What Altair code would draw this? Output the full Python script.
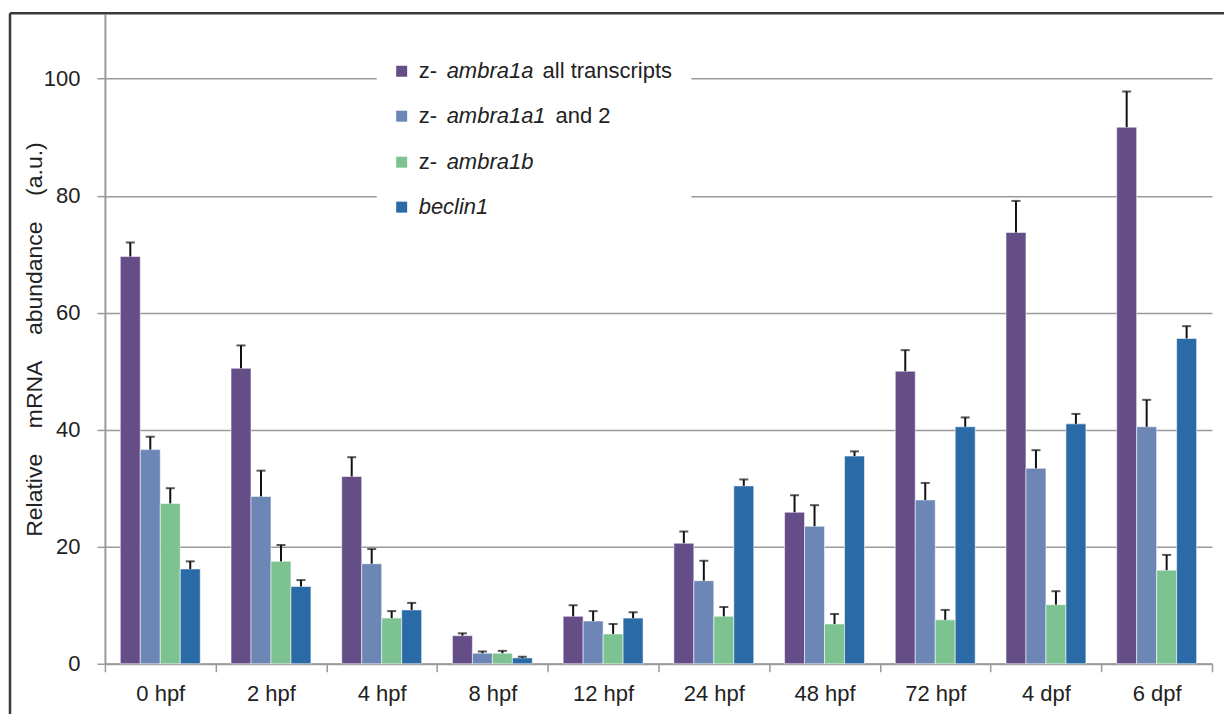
import altair as alt
import pandas as pd

# ---- data ----
stages = ["0 hpf", "2 hpf", "4 hpf", "8 hpf", "12 hpf", "24 hpf", "48 hpf", "72 hpf", "4 dpf", "6 dpf"]
series = ["z- ambra1a all transcripts", "z- ambra1a1 and 2", "z- ambra1b", "beclin1"]

ambra1a_all = [69.6, 50.5, 32.0, 4.8, 8.1, 20.6, 25.9, 50.0, 73.7, 91.7]
ambra1a_all_err = [2.4, 3.9, 3.3, 0.4, 1.9, 2.0, 2.9, 3.6, 5.4, 6.1]
ambra1a12 = [36.6, 28.6, 17.1, 1.8, 7.3, 14.2, 23.5, 28.0, 33.4, 40.5]
ambra1a12_err = [2.2, 4.4, 2.5, 0.3, 1.7, 3.4, 3.6, 2.9, 3.1, 4.6]
ambra1b = [27.4, 17.5, 7.8, 1.8, 5.1, 8.1, 6.8, 7.5, 10.1, 16.0]
ambra1b_err = [2.6, 2.8, 1.2, 0.4, 1.7, 1.6, 1.7, 1.7, 2.3, 2.6]
beclin1 = [16.2, 13.2, 9.2, 1.0, 7.8, 30.4, 35.5, 40.5, 41.0, 55.6]
beclin1_err = [1.3, 1.1, 1.2, 0.2, 1.0, 1.1, 0.8, 1.6, 1.7, 2.1]

y_ticks = [0, 20, 40, 60, 80, 100]

# legend text pieces: (normal prefix, italic part, normal suffix)
legend_parts = [("z- ", "ambra1a", "all transcripts"),
                ("z- ", "ambra1a1", "and 2"),
                ("z- ", "ambra1b", ""),
                ("", "beclin1", "")]

colors = ["#654E88", "#6C86B6", "#7DC392", "#2A6BA7"]
FONT = "Liberation Sans"
TXT = "#222222"
GRID = "#9a9a9a"

rows = []
for name, vals, errs in zip(series,
                            [ambra1a_all, ambra1a12, ambra1b, beclin1],
                            [ambra1a_all_err, ambra1a12_err, ambra1b_err, beclin1_err]):
    for st, v, e in zip(stages, vals, errs):
        rows.append({"stage": st, "series": name, "value": v, "top": v + e})
df = pd.DataFrame(rows)

W, H = 1108, 650
SP = "\u00a0\u00a0\u00a0 "

x_enc = alt.X("stage:N", sort=stages,
              scale=alt.Scale(paddingInner=0, paddingOuter=0),
              axis=alt.Axis(title=None, labelAngle=0, tickBand="extent",
                            tickSize=8, tickWidth=1.5, tickColor=GRID,
                            domainColor=GRID, domainWidth=2,
                            labelFontSize=22, labelColor=TXT, labelFont=FONT,
                            labelPadding=12))
xo_enc = alt.XOffset("series:N", sort=series,
                     scale=alt.Scale(paddingInner=0, paddingOuter=0.77))

base = alt.Chart(df)

bars = base.mark_bar(stroke="white", strokeWidth=1, strokeOpacity=0.55).encode(
    x=x_enc,
    xOffset=xo_enc,
    y=alt.Y("value:Q",
            scale=alt.Scale(domain=[0, 111], nice=False),
            axis=alt.Axis(values=y_ticks, grid=True, gridColor=GRID, gridWidth=1.5,
                          domainColor=GRID, domainWidth=2,
                          tickColor=GRID, tickSize=8, tickWidth=1.5,
                          labelFontSize=22, labelColor=TXT, labelFont=FONT, labelPadding=17,
                          title="Relative" + SP + "mRNA" + SP + "abundance" + SP + "(a.u.)",
                          titleFont=FONT, titleFontSize=23, titleFontWeight="normal",
                          titleColor=TXT, titleAngle=270, titleX=-70, titleY=325,
                          titleAlign="center", titleBaseline="middle")),
    color=alt.Color("series:N", sort=series,
                    scale=alt.Scale(domain=series, range=colors), legend=None),
)

err_line = base.mark_rule(color="#111111", strokeWidth=2).encode(
    x=alt.X("stage:N", sort=stages),
    xOffset=alt.XOffset("series:N", sort=series),
    y="value:Q",
    y2="top:Q",
)
err_cap = base.mark_tick(color="#111111", orient="horizontal", size=9, thickness=2).encode(
    x=alt.X("stage:N", sort=stages),
    xOffset=alt.XOffset("series:N", sort=series),
    y="top:Q",
)

one = pd.DataFrame({"k": [0]})

# legend background box (covers grid lines)
legend_box = alt.Chart(one).mark_rect(color="white").encode(
    x=alt.value(272), x2=alt.value(587), y=alt.value(32), y2=alt.value(214))

legend_layers = [legend_box]
row_y = [57, 102, 148, 193]
for i, (pre, ital, suf) in enumerate(legend_parts):
    yv = row_y[i]
    legend_layers.append(
        alt.Chart(one).mark_square(size=121, color=colors[i], opacity=1).encode(
            x=alt.value(297), y=alt.value(yv)))
    if pre:
        legend_layers.append(
            alt.Chart(pd.DataFrame({"t": [pre.strip()]})).mark_text(
                align="left", baseline="middle", font=FONT, fontSize=22, color=TXT).encode(
                x=alt.value(314), y=alt.value(yv), text="t:N"))
        ix = 342
    else:
        ix = 314
    legend_layers.append(
        alt.Chart(pd.DataFrame({"t": [ital]})).mark_text(
            align="left", baseline="middle", font=FONT, fontSize=22, fontStyle="italic",
            color=TXT).encode(x=alt.value(ix), y=alt.value(yv), text="t:N"))
    if suf:
        sx = 438 if i == 0 else 451
        legend_layers.append(
            alt.Chart(pd.DataFrame({"t": [suf]})).mark_text(
                align="left", baseline="middle", font=FONT, fontSize=22, color=TXT).encode(
                x=alt.value(sx), y=alt.value(yv), text="t:N"))

# outer frame (top and left edges)
frame_top = alt.Chart(one).mark_rule(color="#3a3a3a", strokeWidth=2.5).encode(
    x=alt.value(-95), x2=alt.value(W + 20), y=alt.value(-1))
frame_left = alt.Chart(one).mark_rule(color="#3a3a3a", strokeWidth=2.5).encode(
    x=alt.value(-95), y=alt.value(-1), y2=alt.value(H + 60))

chart = alt.layer(bars, err_line, err_cap, *legend_layers, frame_top, frame_left).properties(
    width=W, height=H,
    autosize=alt.AutoSizeParams(type="none"),
    padding={"left": 97, "top": 6, "right": 12, "bottom": 50},
    background="white",
).configure_view(stroke=None)

chart.save("out.html", embed_options={"renderer": "svg", "actions": False})
